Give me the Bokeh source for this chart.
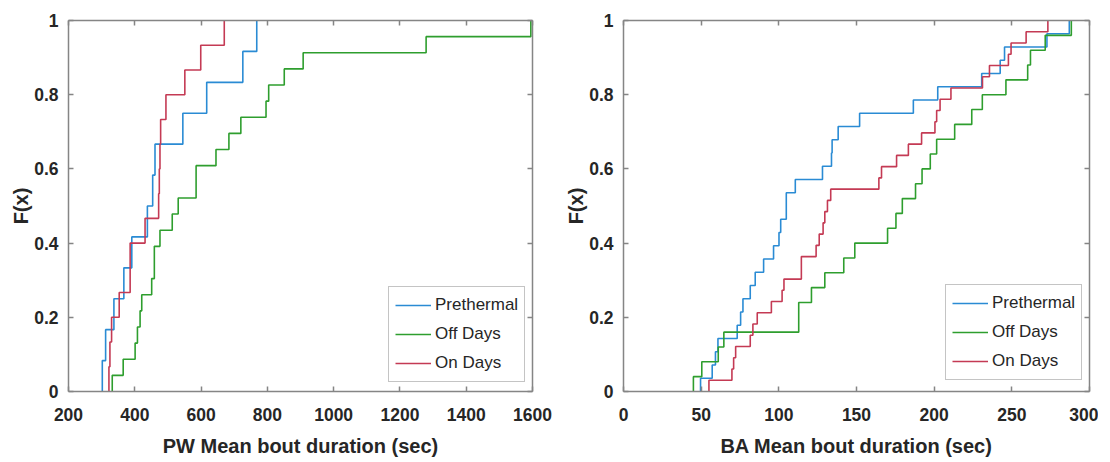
import numpy as np
from bokeh.plotting import figure
from bokeh.layouts import row
from bokeh.models import FixedTicker, LinearAxis, Legend, LegendItem, Range1d
from bokeh.embed import file_html
from bokeh.resources import INLINE

# ---------------- data (sample values) ----------------
series_names = ["Prethermal", "Off Days", "On Days"]
series_colors = ["#2a8bd4", "#2e9e2e", "#c43a54"]

pw_prethermal = [302, 312, 337, 367, 391, 438, 454, 461, 545, 617, 726, 768]
pw_off_days = [332, 365, 401, 408, 416, 421, 451, 459, 459, 476, 513, 531,
               585, 585, 645, 684, 720, 796, 804, 851, 908, 1279, 1595]
pw_on_days = [322, 325, 330, 353, 386, 386, 431, 472, 474, 476, 478, 494,
              551, 599, 670]

ba_prethermal = [49.6, 57.1, 59.2, 60.8, 73.2, 75.4, 76.9, 81.6, 84.8, 90.2,
                 96.6, 100.1, 101.2, 104.8, 104.8, 110.6, 128.1, 133.9, 134.3,
                 138.2, 152.0, 186.6, 202.3, 230.6, 242.5, 245.3, 272.6, 287.0]
ba_off_days = [45.0, 50.4, 61.0, 64.6, 112.8, 112.8, 121.0, 129.6, 141.8, 148.9,
               170.0, 175.4, 179.5, 188.0, 192.2, 197.5, 201.6, 213.2, 224.2,
               231.0, 246.2, 260.2, 262.0, 271.5, 288.3]
ba_on_days = [55.0, 69.8, 70.9, 72.2, 81.6, 83.3, 86.1, 95.2, 102.1, 103.3,
              114.5, 114.5, 124.0, 126.0, 128.5, 129.6, 131.3, 133.4, 164.4,
              166.1, 175.8, 183.4, 191.9, 200.5, 201.6, 203.8, 210.8, 231.1,
              235.6, 247.8, 249.5, 259.2, 273.2]

pw_xticks = [200, 400, 600, 800, 1000, 1200, 1400, 1600]
ba_xticks = [0, 50, 100, 150, 200, 250, 300]
y_ticks = [0, 0.2, 0.4, 0.6, 0.8, 1]
y_tick_labels = ["0", "0.2", "0.4", "0.6", "0.8", "1"]

pw_xlabel = "PW Mean bout duration (sec)"
ba_xlabel = "BA Mean bout duration (sec)"
y_label = "F(x)"

FONT = "Liberation Sans"
AXIS_COLOR = "#858585"
TEXT_COLOR = "#262626"
FIG_H = 462


def ecdf_path(values):
    v = np.sort(np.asarray(values, dtype=float))
    n = len(v)
    xs = np.repeat(v, 2)
    levels = np.arange(n + 1) / n
    ys = np.empty(2 * n)
    ys[0::2] = levels[:-1]
    ys[1::2] = levels[1:]
    return xs, ys


def style_axis(ax, ticks, show_labels=True):
    ax.ticker = FixedTicker(ticks=ticks)
    ax.axis_line_color = AXIS_COLOR
    ax.axis_line_width = 1.5
    ax.major_tick_line_color = AXIS_COLOR
    ax.major_tick_line_width = 1.5
    ax.major_tick_in = 5
    ax.major_tick_out = 0
    ax.minor_tick_in = 0
    ax.minor_tick_out = 0
    ax.major_label_text_font = FONT
    ax.major_label_text_font_style = "bold"
    ax.major_label_text_color = TEXT_COLOR
    ax.axis_label_text_font = FONT
    ax.axis_label_text_font_style = "bold"
    ax.axis_label_text_color = TEXT_COLOR
    if show_labels:
        ax.major_label_text_font_size = "17.5px"
        ax.axis_label_text_font_size = "20px"
    else:
        ax.major_label_text_font_size = "1px"
        ax.major_label_text_color = None
        ax.major_label_text_alpha = 0
        ax.major_label_standoff = 0


def make_panel(datasets, xlabel, xticks, x_start, x_end, width,
               b_left, b_right, legend_xy):
    p = figure(width=width, height=FIG_H, output_backend="svg",
               toolbar_location=None, x_axis_type=None, y_axis_type=None,
               x_range=Range1d(x_start, x_end), y_range=Range1d(0, 1),
               min_border_left=b_left, min_border_right=b_right,
               min_border_top=20, min_border_bottom=FIG_H - 391)
    p.outline_line_color = None
    p.xgrid.visible = False
    p.ygrid.visible = False
    p.background_fill_color = "white"
    p.border_fill_color = "white"

    xb = LinearAxis(axis_label=xlabel)
    style_axis(xb, xticks)
    xb.major_label_standoff = 16
    xb.axis_label_standoff = 11
    p.add_layout(xb, "below")

    yl = LinearAxis(axis_label=y_label)
    style_axis(yl, y_ticks)
    yl.major_label_overrides = dict(zip(y_ticks, y_tick_labels))
    yl.major_label_standoff = 10
    yl.axis_label_standoff = -1
    p.add_layout(yl, "left")

    xt = LinearAxis()
    style_axis(xt, xticks, show_labels=False)
    p.add_layout(xt, "above")
    yr = LinearAxis()
    style_axis(yr, y_ticks, show_labels=False)
    p.add_layout(yr, "right")

    items = []
    for name, color, vals in zip(series_names, series_colors, datasets):
        xs, ys = ecdf_path(vals)
        r = p.line(xs, ys, line_color=color, line_width=1.6)
        items.append(LegendItem(label=name, renderers=[r]))

    legend = Legend(items=items, location=legend_xy,
                    label_text_font=FONT, label_text_font_size="17px",
                    label_text_color=TEXT_COLOR,
                    glyph_width=36, glyph_height=24, label_standoff=4,
                    label_height=24, spacing=5, padding=6, margin=0,
                    border_line_color="#8a8a8a", border_line_width=1.2,
                    background_fill_color="white", background_fill_alpha=1)
    p.add_layout(legend, "center")
    return p


p1 = make_panel([pw_prethermal, pw_off_days, pw_on_days], pw_xlabel, pw_xticks,
                200, 1600, 553, 68, 21, (320, 9))
p2 = make_panel([ba_prethermal, ba_off_days, ba_on_days], ba_xlabel, ba_xticks,
                0, 300, 545, 70, 9, (322, 11))

layout = row(p1, p2)
open("out.html", "w").write(file_html(layout, INLINE))
